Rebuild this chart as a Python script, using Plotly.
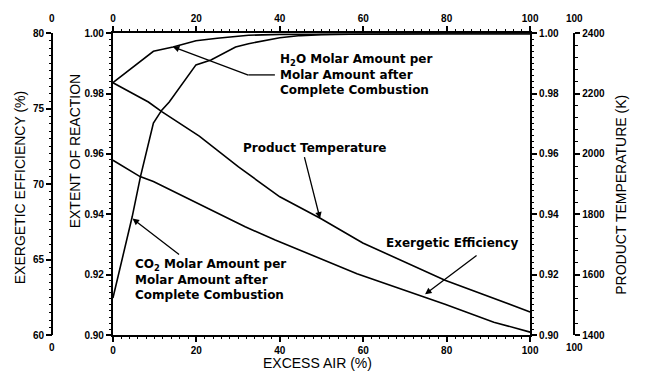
import plotly.graph_objects as go

W, H = 651, 379

# ---- data ----
x_h2o = [0, 9.7, 14.4, 19.9, 25, 29.4, 32.5, 40, 50, 60, 80, 100]
h2o = [0.9836, 0.9940, 0.9954, 0.9975, 0.9983, 0.9989, 0.9993, 0.9996, 0.9997, 0.9998, 0.9998, 0.9998]

x_co2 = [0, 4.6, 6.6, 9.7, 11.7, 13.5, 19.9, 23.5, 29.4, 32.5, 40, 45, 50, 60, 80, 100]
co2 = [0.9123, 0.9391, 0.9525, 0.9702, 0.9745, 0.9772, 0.9895, 0.9911, 0.9954, 0.9965,
       0.9985, 0.9992, 0.9995, 0.9997, 0.9998, 0.9998]

x_temp = [0, 8.5, 11.7, 20.7, 30.1, 40, 49.8, 59.9, 79.6, 96, 100]
temp_k = [2236, 2172, 2140, 2059, 1957, 1858, 1786, 1705, 1582, 1496, 1477]

x_ex = [0, 6.5, 9.7, 20.7, 31.7, 38.9, 58.5, 79.6, 91.3, 100]
exergetic = [71.58, 70.50, 70.18, 68.68, 67.18, 66.3, 64.07, 62.04, 60.86, 60.2]

x_range = [0, 100]
ext_range = [0.90, 1.00]
ex_range = [60, 80]
t_range = [1400, 2400]

# ---- layout geometry (pixels) ----
L, R, T, B = 112, 537, 29, 340
EX_AX, T_AX = 50, 582


def px(x):
    return x / W


def py(y):
    return 1 - y / H


FONT = "Liberation Sans"
LFONT = "DejaVu Sans"
tickfont = dict(family=FONT, size=10, color="black", weight="bold")
line_kw = dict(color="black", width=1.6)

fig = go.Figure()
fig.add_trace(go.Scatter(x=x_h2o, y=h2o, mode="lines", line=line_kw, xaxis="x", yaxis="y"))
fig.add_trace(go.Scatter(x=x_co2, y=co2, mode="lines", line=line_kw, xaxis="x", yaxis="y"))
fig.add_trace(go.Scatter(x=x_ex, y=exergetic, mode="lines", line=line_kw, xaxis="x", yaxis="y3"))
fig.add_trace(go.Scatter(x=x_temp, y=temp_k, mode="lines", line=line_kw, xaxis="x", yaxis="y4"))

# invisible carrier traces so that every tick-only axis gets drawn
carriers = [("x2", "y", x_range, ext_range), ("x3", "y", x_range, ext_range),
            ("x4", "y", x_range, ext_range), ("x", "y2", x_range, ext_range),
            ("x", "y5", x_range, ext_range), ("x", "y6", x_range, ext_range),
            ("x", "y7", x_range, ex_range), ("x", "y8", x_range, t_range)]
for xa, ya, xs, ys in carriers:
    fig.add_trace(go.Scatter(x=xs, y=ys, mode="lines", line=dict(width=0, color="rgba(0,0,0,0)"),
                             hoverinfo="skip", xaxis=xa, yaxis=ya))

axis_common = dict(showline=True, linecolor="black", linewidth=2, ticks="outside",
                   ticklen=5, tickwidth=1.5, tickcolor="black", showgrid=False,
                   zeroline=False, tickfont=tickfont, tickmode="linear")

minor_common = dict(showline=False, ticks="outside", ticklen=3, tickwidth=1, tickcolor="black",
                    showgrid=False, zeroline=False, showticklabels=False, tickmode="linear")

xdom = [px(L), px(R)]
ydom = [py(B), py(T)]

fig.update_layout(
    width=W, height=H, margin=dict(l=0, r=0, t=0, b=0),
    paper_bgcolor="white", plot_bgcolor="white", showlegend=False,
    xaxis=dict(domain=xdom, range=x_range, tick0=0, dtick=20, anchor="y", **axis_common),
    xaxis2=dict(domain=xdom, range=x_range, tick0=0, dtick=20, overlaying="x", side="top",
                anchor="y", **axis_common),
    xaxis3=dict(domain=xdom, range=x_range, tick0=0, dtick=2, overlaying="x", side="bottom",
                anchor="y", **minor_common),
    xaxis4=dict(domain=xdom, range=x_range, tick0=0, dtick=2, overlaying="x", side="top",
                anchor="y", **minor_common),
    yaxis=dict(domain=ydom, range=ext_range, tick0=0.9, dtick=0.02, tickformat=".2f",
               anchor="x", **axis_common),
    yaxis2=dict(domain=ydom, range=ext_range, tick0=0.9, dtick=0.02, tickformat=".2f",
                overlaying="y", side="right", anchor="x", **axis_common),
    yaxis3=dict(domain=ydom, range=ex_range, tick0=60, dtick=5, overlaying="y", side="left",
                anchor="free", position=px(EX_AX), **axis_common),
    yaxis4=dict(domain=ydom, range=t_range, tick0=1400, dtick=200, overlaying="y", side="right",
                anchor="free", position=px(T_AX), **axis_common),
    yaxis5=dict(domain=ydom, range=ext_range, tick0=0.9, dtick=0.002, overlaying="y",
                side="left", anchor="x", **minor_common),
    yaxis6=dict(domain=ydom, range=ext_range, tick0=0.9, dtick=0.002, overlaying="y",
                side="right", anchor="x", **minor_common),
    yaxis7=dict(domain=ydom, range=ex_range, tick0=60, dtick=0.5, overlaying="y", side="left",
                anchor="free", position=px(EX_AX), **minor_common),
    yaxis8=dict(domain=ydom, range=t_range, tick0=1400, dtick=40, overlaying="y", side="right",
                anchor="free", position=px(T_AX), **minor_common),
)

ann = []


def text(x, y, s, size=12, angle=0, xanchor="center", weight="normal", family=FONT):
    ann.append(dict(x=px(x), y=py(y), xref="paper", yref="paper", text=s, showarrow=False,
                    textangle=angle, xanchor=xanchor, yanchor="middle", align="left",
                    font=dict(family=family, size=size, color="black", weight=weight)))


def arrow(x0, y0, x1, y1):
    # tail (x0,y0) -> tip (x1,y1), pixels
    ann.append(dict(x=px(x1), y=py(y1), xref="paper", yref="paper", text="", showarrow=True,
                    ax=x0 - x1, ay=y0 - y1, axref="pixel", ayref="pixel",
                    arrowhead=2, arrowsize=1, arrowwidth=1.3, arrowcolor="black"))


# axis titles
text(17, 188, "EXERGETIC EFFICIENCY (%)", 14, -90)
text(73, 150, "EXTENT OF REACTION", 14, -90)
text(630, 195, "PRODUCT TEMPERATURE (K)", 14, -90)
text(320, 369, "EXCESS AIR (%)", 14)

# end labels of the outer axes
text(EX_AX, 14, "0", 10, weight="bold")
text(EX_AX, 353, "0", 10, weight="bold")
text(T_AX, 14, "100", 10, weight="bold")
text(T_AX, 353, "100", 10, weight="bold")

# curve labels
text(280, 72, "H<sub>2</sub>O Molar Amount per<br>Molar Amount after<br>Complete Combustion",
     12, xanchor="left", weight="bold", family=LFONT)
text(132, 283, "CO<sub>2</sub> Molar Amount per<br>Molar Amount after<br>Complete Combustion",
     12, xanchor="left", weight="bold", family=LFONT)
text(242, 147, "Product Temperature", 12, xanchor="left", weight="bold", family=LFONT)
text(388, 245, "Exergetic Efficiency", 12, xanchor="left", weight="bold", family=LFONT)

arrow(250, 72, 173, 43)
arrow(180, 257, 132, 220)
arrow(307, 157, 323, 220)
arrow(483, 258, 430, 298)

fig.update_layout(annotations=ann)
fig.add_shape(type="line", xref="paper", yref="paper", x0=px(250), y0=py(72), x1=px(277), y1=py(72),
              line=dict(color="black", width=1.3))

fig.write_html("out.html")
